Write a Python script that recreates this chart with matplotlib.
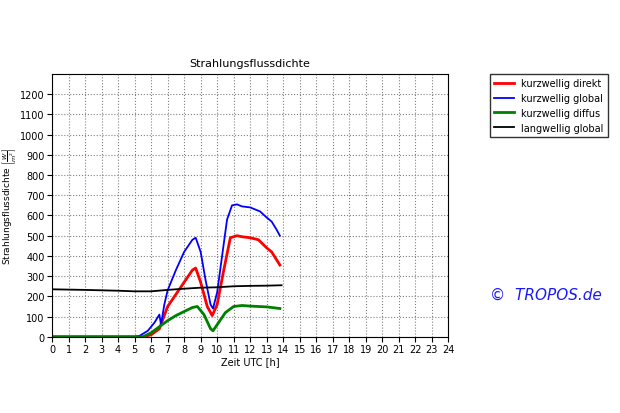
import matplotlib
matplotlib.use("Agg")
import matplotlib.pyplot as plt

t_blue = [0, 5.0, 5.3, 5.8, 6.2, 6.5, 6.6, 6.8, 7.0, 7.5, 8.0, 8.5, 8.7, 9.0, 9.3, 9.6, 9.75, 10.0, 10.3, 10.6, 10.9, 11.2, 11.5, 12.0, 12.3, 12.6, 13.0, 13.3, 13.6, 13.8]
v_blue = [0, 0, 5, 30, 70, 110, 60, 160, 230, 330, 420, 480, 490, 420, 280, 160, 140, 220, 400, 580, 650, 655, 645, 640, 630, 620, 590, 570, 530, 500]
t_red = [0, 5.5, 6.0, 6.5, 7.0, 7.5, 8.0, 8.5, 8.7, 9.0, 9.4, 9.7, 10.0, 10.4, 10.8, 11.2, 11.5, 12.0, 12.5, 13.0, 13.3, 13.8]
v_red = [0, 0, 10, 40, 150, 210, 270, 330, 340, 270, 150, 105, 160, 330, 490, 500, 495, 490, 480, 440, 420, 355]
t_green = [0, 5.5, 6.0, 6.5, 7.0, 7.5, 8.0, 8.5, 8.8, 9.2, 9.6, 9.75, 10.0, 10.5, 11.0, 11.5, 12.0, 13.0, 13.8]
v_green = [0, 0, 20, 50, 80, 105, 125, 145, 150, 110, 40, 30, 60, 120, 150, 155, 152, 148, 140]
t_black = [0, 2, 4, 5, 6, 7, 8, 9, 10, 11, 12, 13, 13.9]
v_black = [235, 232, 228, 225, 225, 232, 238, 243, 245, 250, 252, 253, 255]
labels = ["kurzwellig direkt", "kurzwellig global", "kurzwellig diffus", "langwellig global"]

fig = plt.figure(figsize=(6.2, 4.14), dpi=100)
ax = fig.add_axes([0.084, 0.184, 0.639, 0.635])
ax.plot(t_red, v_red, color="red", lw=2, label=labels[0])
ax.plot(t_blue, v_blue, color="blue", lw=1.3, label=labels[1])
ax.plot(t_green, v_green, color="green", lw=2, label=labels[2])
ax.plot(t_black, v_black, color="black", lw=1.3, label=labels[3])
ax.set_xlim(0, 24)
ax.set_ylim(0, 1300)
ax.set_xticks(range(0, 25))
ax.set_yticks(range(0, 1300, 100))
ax.tick_params(labelsize=7, pad=2)
ax.grid(True, ls=":", color="gray", lw=0.8)
ax.set_title("Strahlungsflussdichte", fontsize=8)
ax.set_xlabel("Zeit UTC [h]", fontsize=7, labelpad=1)
ax.set_ylabel(r"Strahlungsflussdichte $\left[\frac{W}{m^2}\right]$", fontsize=6.5, labelpad=1)
fig.legend(loc="upper left", bbox_to_anchor=(0.783, 0.83), fontsize=7, frameon=True,
           fancybox=False, edgecolor="black", handlelength=2)
fig.text(0.79, 0.275, "©  TROPOS.de", color="#1a1aff", fontsize=11, style="italic")
fig.savefig("out.png", dpi=100)
